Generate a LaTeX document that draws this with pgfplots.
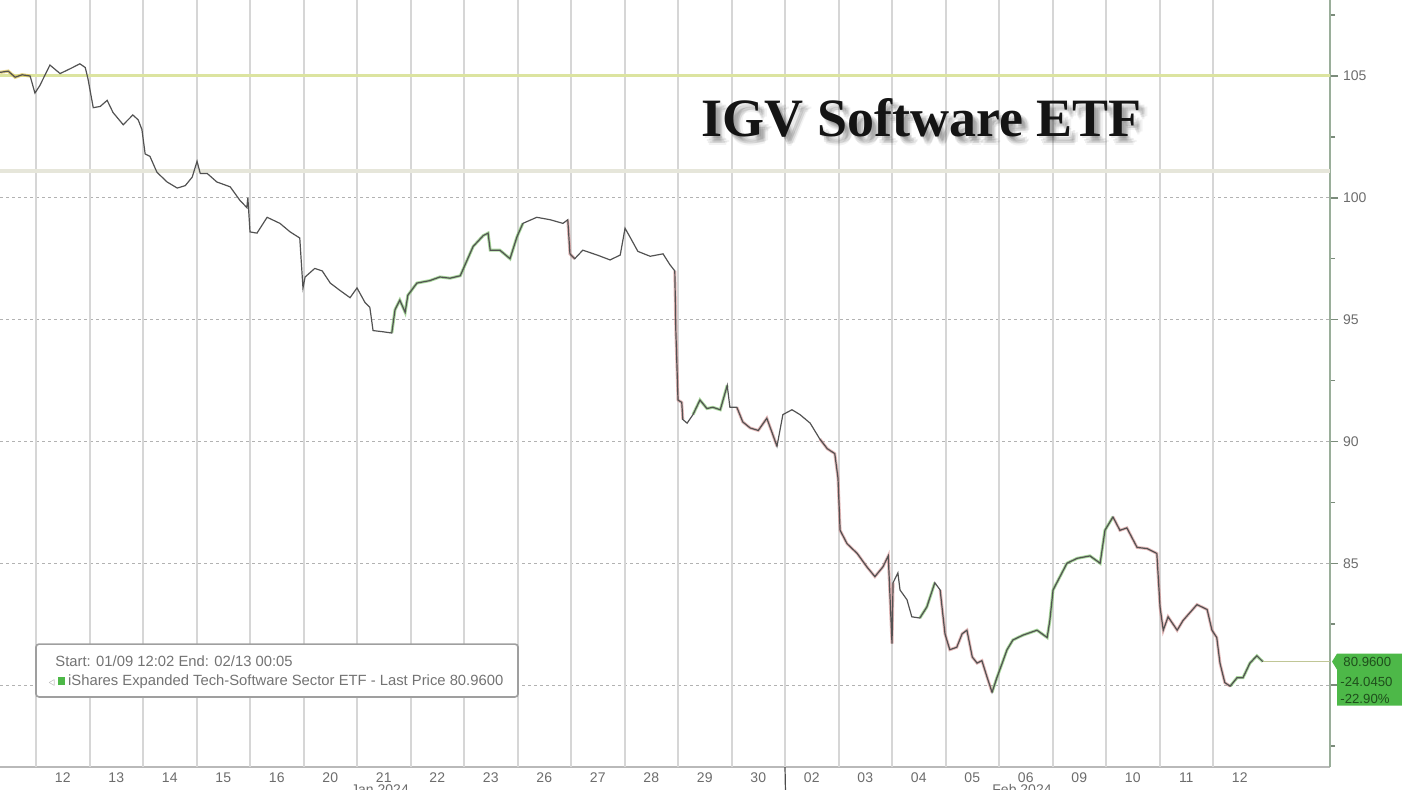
\documentclass[border=0pt]{standalone}
\usepackage{pgfplots}
\pgfplotsset{compat=1.18}
\usepackage{pgfplotstable}
\usepackage{fontspec}
\setmainfont{Liberation Sans}
\newfontfamily\titlefont{Liberation Serif}
\definecolor{gridv}{HTML}{D6D6D6}
\definecolor{refy}{HTML}{DCE4A0}
\definecolor{refg}{HTML}{E6E6DA}
\definecolor{lineg}{HTML}{6FBF5A}
\definecolor{liner}{HTML}{CC7777}
\definecolor{liney}{HTML}{D8C050}
\definecolor{boxg}{HTML}{4DB848}
\definecolor{axisg}{HTML}{9AAE9A}
\definecolor{boxtxt}{HTML}{1F4F1C}

\pgfplotstableread{
x y
-0.67 105.15
-0.52 105.20
-0.39 104.95
-0.26 105.05
-0.11 105.00
-0.02 104.30
0.07 104.60
0.26 105.45
0.45 105.10
0.64 105.30
0.82 105.50
0.92 105.35
0.97 104.90
1.07 103.70
1.20 103.75
1.33 104.00
1.44 103.50
1.63 103.00
1.81 103.40
1.91 103.20
1.98 102.80
2.04 101.80
2.13 101.70
2.26 101.05
2.45 100.65
2.64 100.40
2.79 100.50
2.92 100.85
3.01 101.50
3.07 101.00
3.20 101.00
3.38 100.65
3.63 100.45
3.81 99.90
3.94 99.60
3.96 100.00
4.00 98.60
4.13 98.55
4.32 99.20
4.56 98.95
4.75 98.60
4.93 98.35
4.99 96.30
5.03 96.75
5.21 97.10
5.35 97.00
5.50 96.50
5.68 96.20
5.87 95.90
6.00 96.30
6.15 95.70
6.24 95.50
6.30 94.55
6.49 94.50
6.65 94.45
6.71 95.40
6.80 95.80
6.90 95.30
6.95 96.00
7.12 96.50
7.36 96.60
7.55 96.75
7.74 96.70
7.93 96.80
8.02 97.25
8.17 98.00
8.36 98.45
8.45 98.55
8.49 97.85
8.67 97.85
8.86 97.50
8.99 98.40
9.10 98.95
9.36 99.20
9.61 99.10
9.85 98.95
9.94 99.10
9.98 97.70
10.07 97.50
10.22 97.85
10.49 97.65
10.73 97.45
10.92 97.65
11.01 98.75
11.10 98.40
11.25 97.80
11.48 97.60
11.72 97.70
11.85 97.25
11.94 97.00
11.96 94.50
12.00 91.70
12.07 91.60
12.09 90.90
12.17 90.75
12.28 91.10
12.41 91.70
12.54 91.35
12.65 91.40
12.79 91.30
12.92 92.30
12.97 91.40
13.10 91.40
13.21 90.80
13.35 90.55
13.50 90.45
13.66 90.95
13.76 90.35
13.85 89.80
13.96 91.10
14.13 91.30
14.28 91.10
14.47 90.75
14.65 90.10
14.79 89.70
14.93 89.50
14.99 88.50
15.03 86.35
15.16 85.80
15.35 85.40
15.53 84.85
15.68 84.45
15.83 84.85
15.93 85.30
16.00 81.70
16.02 84.20
16.11 84.60
16.15 83.90
16.28 83.50
16.37 82.80
16.52 82.75
16.65 83.20
16.80 84.20
16.90 83.90
16.99 82.10
17.08 81.45
17.21 81.55
17.31 82.10
17.40 82.25
17.50 81.15
17.59 80.90
17.68 81.00
17.78 80.30
17.87 79.70
17.96 80.30
18.06 80.90
18.15 81.45
18.26 81.85
18.45 82.05
18.71 82.25
18.90 81.95
18.95 82.65
19.01 83.90
19.14 84.45
19.27 85.00
19.46 85.20
19.70 85.30
19.89 85.00
19.98 86.35
20.13 86.90
20.26 86.35
20.39 86.45
20.58 85.65
20.77 85.60
20.95 85.40
21.01 83.20
21.07 82.25
21.16 82.80
21.33 82.25
21.44 82.65
21.70 83.30
21.89 83.10
21.98 82.25
22.07 81.95
22.13 80.90
22.22 80.10
22.32 79.95
22.45 80.30
22.56 80.30
22.69 80.90
22.82 81.20
22.93 80.96
}\igv

\begin{document}
\begin{tikzpicture}[x=1pt,y=1pt]
\path[use as bounding box] (0,-11.5) rectangle (701,383.5);
\begin{axis}[
  at={(0,0)}, anchor=south west,
  scale only axis, width=665pt, height=383.5pt,
  xmin=-0.673, xmax=24.187, ymin=76.634, ymax=108.12,
  clip=false,
  axis x line*=bottom, axis y line*=right,
  x axis line style={gray!55, line width=1.3pt},
  y axis line style={axisg, line width=0.6pt},
  xtick={0.5,1.5,...,22.5},
  xticklabels={12,13,14,15,16,20,21,22,23,26,27,28,29,30,02,03,04,05,06,09,10,11,12},
  xtick style={draw=none},
  extra x ticks={0,1,...,22},
  extra x tick labels={},
  extra x tick style={grid=major, major grid style={gridv, line width=1pt},
     tick style={draw=gray!60, line width=0.4pt}, major tick length=2.5pt, tick align=outside},
  ytick={80,85,90,95,100,105},
  minor ytick={77.5,82.5,87.5,92.5,97.5,102.5,107.5},
  ytick style={draw=axisg!80!black, line width=0.7pt},
  tick align=outside,
  major tick length=4pt, minor tick length=2.5pt,
  ymajorgrids=true,
  y grid style={gray!60, dash pattern=on 1.5pt off 1.5pt, line width=0.5pt},
  /pgf/number format/assume math mode=true,
  yticklabel style={font=\fontsize{7}{8}\selectfont, text=gray!85!black, xshift=-1pt},
  xticklabel style={font=\fontsize{7}{8}\selectfont, text=gray!85!black, yshift=4.5pt},
]
% reference lines
\addplot[refg, line width=2pt, forget plot] coordinates {(-0.673,101.1) (24.187,101.1)};
\addplot[refy, line width=1.6pt, forget plot] coordinates {(-0.673,105.02) (24.187,105.02)};
\addplot[refy!70!gray, line width=0.6pt, forget plot] coordinates {(22.93,80.96) (24.187,80.96)};

% colour tint of rising / falling sections
\addplot[liney, line width=1.6pt, opacity=0.7, restrict x to domain=-0.7:-0.1] table[x=x,y=y]{\igv};
\addplot[lineg, line width=1.5pt, opacity=0.6, restrict x to domain=6.6:9.15] table[x=x,y=y]{\igv};
\addplot[lineg, line width=1.5pt, opacity=0.6, restrict x to domain=12.2:12.95] table[x=x,y=y]{\igv};
\addplot[lineg, line width=1.5pt, opacity=0.6, restrict x to domain=16.5:16.85] table[x=x,y=y]{\igv};
\addplot[lineg, line width=1.5pt, opacity=0.6, restrict x to domain=17.87:20.15] table[x=x,y=y]{\igv};
\addplot[lineg, line width=1.5pt, opacity=0.6, restrict x to domain=22.3:23] table[x=x,y=y]{\igv};
\addplot[liner, line width=1.5pt, opacity=0.5, restrict x to domain=9.9:10.1] table[x=x,y=y]{\igv};
\addplot[liner, line width=1.5pt, opacity=0.5, restrict x to domain=11.9:12.1] table[x=x,y=y]{\igv};
\addplot[liner, line width=1.5pt, opacity=0.5, restrict x to domain=13.0:13.9] table[x=x,y=y]{\igv};
\addplot[liner, line width=1.5pt, opacity=0.5, restrict x to domain=14.5:16.05] table[x=x,y=y]{\igv};
\addplot[liner, line width=1.5pt, opacity=0.5, restrict x to domain=16.85:17.9] table[x=x,y=y]{\igv};
\addplot[liner, line width=1.5pt, opacity=0.5, restrict x to domain=20.13:22.35] table[x=x,y=y]{\igv};

% price line
\addplot[black!68, line width=0.6pt] table[x=x,y=y]{\igv};

% month separator below the axis
\draw[black!70, line width=0.6pt] (axis cs:14,76.634) -- ++(0,-12pt);
\node[font=\fontsize{7}{8}\selectfont, text=gray!85!black, anchor=north, inner sep=0pt] at ([yshift=-8.5pt]axis cs:6.43,76.634) {Jan 2024};
\node[font=\fontsize{7}{8}\selectfont, text=gray!85!black, anchor=north, inner sep=0pt] at ([yshift=-8.5pt]axis cs:18.43,76.634) {Feb 2024};

% title with soft shadow
\node[font=\titlefont\bfseries\fontsize{27}{30}\selectfont, text=black, opacity=0.07, anchor=base]
   at ([xshift=1pt,yshift=-1pt]axis cs:16.56,102.5) {IGV Software ETF};
\node[font=\titlefont\bfseries\fontsize{27}{30}\selectfont, text=black, opacity=0.07, anchor=base]
   at ([xshift=1.8pt,yshift=-2.2pt]axis cs:16.56,102.5) {IGV Software ETF};
\node[font=\titlefont\bfseries\fontsize{27}{30}\selectfont, text=black, opacity=0.07, anchor=base]
   at ([xshift=2.8pt,yshift=-2pt]axis cs:16.56,102.5) {IGV Software ETF};
\node[font=\titlefont\bfseries\fontsize{27}{30}\selectfont, text=black, opacity=0.07, anchor=base]
   at ([xshift=2.2pt,yshift=-3.2pt]axis cs:16.56,102.5) {IGV Software ETF};
\node[font=\titlefont\bfseries\fontsize{27}{30}\selectfont, text=black, opacity=0.06, anchor=base]
   at ([xshift=3.5pt,yshift=-3.5pt]axis cs:16.56,102.5) {IGV Software ETF};
\node[font=\titlefont\bfseries\fontsize{27}{30}\selectfont, text=black, opacity=0.05, anchor=base]
   at ([xshift=3pt,yshift=-4.3pt]axis cs:16.56,102.5) {IGV Software ETF};
\node[font=\titlefont\bfseries\fontsize{27}{30}\selectfont, text=black, opacity=0.05, anchor=base]
   at ([xshift=4.2pt,yshift=-3pt]axis cs:16.56,102.5) {IGV Software ETF};
\node[font=\titlefont\bfseries\fontsize{27}{30}\selectfont, text=black!92, anchor=base]
   at (axis cs:16.56,102.5) {IGV Software ETF};

% legend box
\draw[gray!75, line width=0.8pt, fill=white, rounded corners=1.5pt] (axis cs:0.0,81.68) rectangle (axis cs:9.01,79.51);
\node[font=\fontsize{7.4}{8}\selectfont, text=gray!90!black, anchor=base west, inner sep=0pt]
   at (axis cs:0.355,80.74) {Start: 01/09 12:02 End: 02/13 00:05};
\node[font=\fontsize{7.4}{8}\selectfont, text=gray!90!black, anchor=base west, inner sep=0pt]
   at (axis cs:0.22,80.0) {{\color{gray!60}\fontsize{5}{6}\selectfont$\triangleleft$}\hspace{1.2pt}{\color{boxg}\rule{3.6pt}{3.8pt}}\hspace{1.5pt}iShares Expanded Tech-Software Sector ETF - Last Price 80.9600};

% last price box
\fill[boxg] ([xshift=1pt]axis cs:24.187,80.96) -- ++(2.5pt,4pt) -- ++(40pt,0pt) -- ++(0pt,-26pt) -- ++(-40pt,0pt) -- ++(0pt,18pt) -- cycle;
\node[font=\fontsize{6.6}{7}\selectfont, text=boxtxt, anchor=west, inner sep=0pt] at ([xshift=6.5pt]axis cs:24.187,80.96) {80.9600};
\node[font=\fontsize{6.6}{7}\selectfont, text=boxtxt, anchor=west, inner sep=0pt] at ([xshift=5pt,yshift=-10pt]axis cs:24.187,80.96) {-24.0450};
\node[font=\fontsize{6.6}{7}\selectfont, text=boxtxt, anchor=west, inner sep=0pt] at ([xshift=5pt,yshift=-18.5pt]axis cs:24.187,80.96) {-22.90\%};
\end{axis}
\end{tikzpicture}
\end{document}
